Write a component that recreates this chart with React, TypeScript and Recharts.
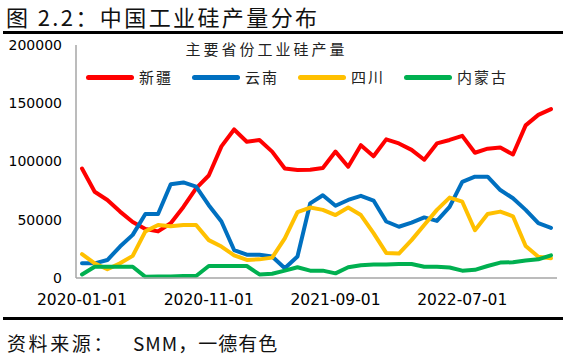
import React from 'react';
import { LineChart, Line, XAxis, YAxis } from 'recharts';

// monthly categories, 2020-01 .. 2023-02
const months = [
  '2020-01-01', '2020-02-01', '2020-03-01', '2020-04-01', '2020-05-01', '2020-06-01',
  '2020-07-01', '2020-08-01', '2020-09-01', '2020-10-01', '2020-11-01', '2020-12-01',
  '2021-01-01', '2021-02-01', '2021-03-01', '2021-04-01', '2021-05-01', '2021-06-01',
  '2021-07-01', '2021-08-01', '2021-09-01', '2021-10-01', '2021-11-01', '2021-12-01',
  '2022-01-01', '2022-02-01', '2022-03-01', '2022-04-01', '2022-05-01', '2022-06-01',
  '2022-07-01', '2022-08-01', '2022-09-01', '2022-10-01', '2022-11-01', '2022-12-01',
  '2023-01-01', '2023-02-01'
];

const xinjiang = [
  94000, 74000, 67000, 57000, 48000, 42000, 40000, 47000, 61000, 77000,
  88000, 113000, 127500, 117000, 118500, 108500, 94000, 92700, 93000, 94500,
  108500, 95500, 114000, 104500, 119000, 115500, 110000, 101500, 115500, 118500,
  122000, 107500, 111000, 112000, 106000, 131000, 140000, 145000
];

const yunnan = [
  12600, 12600, 15400, 27000, 37000, 55000, 55000, 80500, 82000, 78500,
  62500, 48500, 24000, 20000, 20000, 18500, 8300, 18500, 64000, 71000,
  62000, 67000, 70500, 66500, 48500, 44000, 47500, 52000, 49000, 61000,
  82500, 87000, 87000, 75500, 68500, 58500, 47000, 43000
];

const sichuan = [
  20500, 12600, 7500, 12600, 19000, 40000, 45500, 44500, 45500, 45500,
  32500, 27000, 19500, 15500, 16000, 17500, 34000, 56500, 60500, 58500,
  54000, 60500, 54000, 38500, 21500, 21000, 32500, 45500, 58500, 69000,
  65500, 41000, 55000, 57000, 53000, 27500, 18300, 17000
];

const neimenggu = [
  3000, 9700, 9700, 9700, 9700, 1000, 1200, 1200, 1700, 1700,
  10300, 10300, 10300, 10300, 3100, 3700, 6300, 9200, 6300, 6300,
  4000, 9200, 11000, 11500, 11500, 12000, 12000, 9700, 9700, 9000,
  6300, 7000, 10300, 13200, 13500, 15000, 16000, 19500
];

const yTicks = [0, 50000, 100000, 150000, 200000];

const series = [
  { key: 'xinjiang', name: '新疆', color: '#FF0000' },
  { key: 'yunnan', name: '云南', color: '#0070C0' },
  { key: 'sichuan', name: '四川', color: '#FFC000' },
  { key: 'neimenggu', name: '内蒙古', color: '#00B050' }
];

const chartData = months.map((month, i) => ({
  month,
  xinjiang: xinjiang[i],
  yunnan: yunnan[i],
  sichuan: sichuan[i],
  neimenggu: neimenggu[i]
}));

const CJK = '"Noto Sans CJK SC", sans-serif';

// legend sits over the plot, so keep it out of recharts' layout
const LegendBox = () => (
  <div style={{ position: 'absolute', left: 0, top: 39, width: 567, height: 50, fontFamily: CJK, color: '#222' }}>
    <div
      style={{
        position: 'absolute',
        left: 0,
        width: 533,
        top: 0,
        textAlign: 'center',
        fontSize: 15,
        letterSpacing: 3,
        lineHeight: '20px'
      }}
    >
      主要省份工业硅产量
    </div>
    <div style={{ position: 'absolute', left: 86, top: 27, display: 'flex' }}>
      {series.map((s) => (
        <div key={s.key} style={{ display: 'flex', alignItems: 'center', width: 106 }}>
          <span
            style={{
              display: 'inline-block',
              width: 48,
              height: 5,
              borderRadius: 3,
              background: s.color
            }}
          />
          <span style={{ marginLeft: 5, fontSize: 15, letterSpacing: 2, lineHeight: '22px' }}>
            {s.name}
          </span>
        </div>
      ))}
    </div>
  </div>
);

export default function App() {
  return (
    <div style={{ position: 'absolute', left: 0, top: 0, width: 567, height: 362, background: '#fff' }}>
      <div
        style={{
          position: 'absolute',
          left: 6,
          top: 2,
          fontFamily: CJK,
          fontSize: 22,
          letterSpacing: 2.4,
          lineHeight: '28px',
          color: '#111'
        }}
      >
        图 2.2：中国工业硅产量分布
      </div>
      <div style={{ position: 'absolute', left: 3, top: 31, width: 560, height: 3, background: '#000' }} />

      <div style={{ position: 'absolute', left: 0, top: 0 }}>
        <LineChart width={567} height={362} data={chartData} margin={{ top: 45, right: 10, bottom: 54, left: 0 }}>
          <XAxis
            dataKey="month"
            interval={9}
            tickLine={false}
            axisLine={{ stroke: '#A6A6A6', strokeWidth: 1.5 }}
            tickMargin={10}
            height={30}
            padding={{ left: 6, right: 6 }}
            tick={{ fill: '#000', fontSize: 15.5, fontFamily: 'DejaVu Sans' }}
          />
          <YAxis
            domain={[0, 200000]}
            ticks={yTicks}
            width={76}
            tickLine={false}
            axisLine={{ stroke: '#A6A6A6', strokeWidth: 1.5 }}
            tickMargin={8}
            tick={{ fill: '#000', fontSize: 14, fontFamily: 'DejaVu Sans' }}
          />
          {series.map((s) => (
            <Line
              key={s.key}
              type="linear"
              dataKey={s.key}
              name={s.name}
              stroke={s.color}
              strokeWidth={4}
              strokeLinejoin="round"
              strokeLinecap="round"
              dot={false}
              activeDot={false}
              isAnimationActive={false}
            />
          ))}
        </LineChart>
      </div>

      <LegendBox />

      <div style={{ position: 'absolute', left: 3, top: 317, width: 560, height: 3, background: '#000' }} />
      <div
        style={{
          position: 'absolute',
          left: 7,
          top: 330,
          fontFamily: CJK,
          fontSize: 19,
          letterSpacing: 2.6,
          lineHeight: '26px',
          color: '#111'
        }}
      >
        资料来源：<span style={{ marginLeft: 18, letterSpacing: 1 }}>SMM，一德有色</span>
      </div>
    </div>
  );
}
